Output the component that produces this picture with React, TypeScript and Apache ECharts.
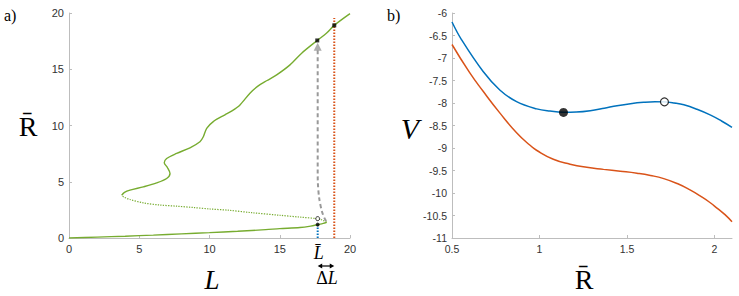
import React, { useEffect, useRef } from "react";
import * as echarts from "echarts";

// ---------- Panel a data (L, R̄) ----------
const lowerStable: [number, number][] = [
  [0, 0], [2, 0.08], [4, 0.16], [6, 0.26], [8, 0.37], [10, 0.48], [12, 0.6], [14, 0.74],
  [15, 0.83], [16.44, 0.93], [17.2, 1.06], [17.7, 1.19], [18.1, 1.3], [18.34, 1.4],
];
const unstableBranch: [number, number][] = [
  [18.34, 1.4], [18.1, 1.56], [17.7, 1.71], [16.5, 1.85], [15, 2.02], [13, 2.25], [11.34, 2.47],
  [10.04, 2.58], [8.85, 2.71], [7.66, 2.83], [6.48, 2.93], [5.29, 3.12], [4.34, 3.42], [3.9, 3.64], [3.75, 3.8],
];
const upperStable: [number, number][] = [
  [3.75, 3.8], [3.95, 4.05], [4.34, 4.25], [5.29, 4.55], [6.24, 4.9], [6.95, 5.29], [7.19, 5.74],
  [7.0, 6.27], [6.78, 6.69], [6.95, 7.07], [7.66, 7.52], [8.61, 8.02], [9.32, 8.56], [9.56, 9.0],
  [9.8, 9.75], [10.27, 10.35], [11.1, 10.95], [11.6, 11.3], [12.17, 11.83], [12.88, 12.87],
  [13.47, 13.52], [14.1, 14.0], [14.78, 14.5], [15.73, 15.39], [16.56, 16.43], [17.67, 17.56],
  [18.34, 18.22], [18.88, 18.9], [20, 19.94],
];
const jumpPath: [number, number][] = [
  [18.3, 1.5], [18.1, 2.0], [17.9, 2.9], [17.75, 4.2], [17.7, 6], [17.7, 16.7],
];
const arrowHead: [number, number][] = [[17.7, 17.0]];
const orangeLine: [number, number][] = [[18.88, 0], [18.88, 19.55]];
const blueLine: [number, number][] = [[17.7, 0], [17.7, 1.19]];
const squareMarks: [number, number][] = [[17.67, 17.56], [18.88, 18.9]];
const stablePoint: [number, number][] = [[17.7, 1.19]];
const unstablePoint: [number, number][] = [[17.7, 1.72]];
const ticksA = { min: 0, max: 20, interval: 5 };

// ---------- Panel b data (R̄, V) ----------
const blueCurve: [number, number][] = [
  [0.5, -6.2], [0.554, -6.59], [0.678, -7.3], [0.773, -7.71], [0.869, -7.97], [0.984, -8.13],
  [1.06, -8.18], [1.137, -8.205], [1.21, -8.2], [1.29, -8.17], [1.37, -8.115], [1.443, -8.06],
  [1.52, -8.015], [1.595, -7.985], [1.66, -7.972], [1.714, -7.975], [1.77, -8.0], [1.825, -8.04],
  [1.9, -8.14], [1.978, -8.27], [2.04, -8.4], [2.1, -8.54],
];
const orangeCurve: [number, number][] = [
  [0.5, -6.7], [0.6, -7.32], [0.678, -7.74], [0.773, -8.22], [0.869, -8.66], [0.946, -8.94],
  [0.983, -9.05], [1.079, -9.25], [1.175, -9.36], [1.27, -9.43], [1.366, -9.475], [1.461, -9.515],
  [1.557, -9.56], [1.634, -9.61], [1.71, -9.68], [1.787, -9.79], [1.86, -9.93], [1.92, -10.07],
  [1.97, -10.2], [2.016, -10.34], [2.06, -10.48], [2.1, -10.64],
];
const minimumPoint: [number, number][] = [[1.137, -8.21]];
const maximumPoint: [number, number][] = [[1.714, -7.975]];
const ticksBx = { min: 0.5, max: 2.1, interval: 0.5 };
const ticksBy = { min: -11, max: -6, interval: 0.5 };

const GREEN = "#77AC30";
const BLUE = "#0072BD";
const ORANGE = "#D95319";

const gridA = { left: 69, top: 13, width: 281, height: 225 };
const gridB = { left: 452, top: 13, width: 280, height: 225 };

const SERIF = '"Liberation Serif", "DejaVu Serif", serif';
const SANS = '"Liberation Sans", Arial, sans-serif';

function axisStyle(fontSize: number) {
  return {
    axisLine: { show: true, onZero: false, lineStyle: { color: "#bdbdbd", width: 1 } },
    axisTick: { show: true, inside: true, length: 3, lineStyle: { color: "#bdbdbd" } },
    splitLine: { show: false },
    axisLabel: { color: "#333", fontSize, fontFamily: SANS, margin: 5 },
  };
}

export default function App() {
  const ref = useRef<HTMLDivElement>(null);
  useEffect(() => {
    if (!ref.current) return;
    const chart = echarts.init(ref.current, null, { renderer: "svg", width: 739, height: 296 });
    const lbarX = gridA.left + (17.7 / 20) * gridA.width;
    const dlX = gridA.left + (18.88 / 20) * gridA.width;
    const arrowY = 266;
    const option: any = {
      animation: false,
      backgroundColor: "#fff",
      grid: [
        { ...gridA, containLabel: false },
        { ...gridB, containLabel: false },
      ],
      xAxis: [
        { type: "value", gridIndex: 0, ...ticksA, ...axisStyle(11) },
        {
          type: "value", gridIndex: 1, ...ticksBx, ...axisStyle(10.5),
          axisLabel: { ...axisStyle(10.5).axisLabel, showMaxLabel: false },
        },
      ],
      yAxis: [
        { type: "value", gridIndex: 0, ...ticksA, ...axisStyle(11) },
        { type: "value", gridIndex: 1, ...ticksBy, ...axisStyle(10.5) },
      ],
      series: [
        {
          type: "line", xAxisIndex: 0, yAxisIndex: 0, data: orangeLine, symbol: "none",
          lineStyle: { color: ORANGE, width: 2, type: [1.6, 1.4] }, z: 2,
        },
        {
          type: "line", xAxisIndex: 0, yAxisIndex: 0, data: blueLine, symbol: "none",
          lineStyle: { color: BLUE, width: 2, type: [1.6, 1.4] }, z: 2,
        },
        {
          type: "line", xAxisIndex: 0, yAxisIndex: 0, data: lowerStable, symbol: "none", smooth: 0.3,
          lineStyle: { color: GREEN, width: 1.4 }, z: 3,
        },
        {
          type: "line", xAxisIndex: 0, yAxisIndex: 0, data: unstableBranch, symbol: "none", smooth: 0.3,
          lineStyle: { color: GREEN, width: 1.2, type: [1.3, 1.3] }, z: 3,
        },
        {
          type: "line", xAxisIndex: 0, yAxisIndex: 0, data: upperStable, symbol: "none", smooth: 0.3,
          lineStyle: { color: GREEN, width: 1.4 }, z: 3,
        },
        {
          type: "line", xAxisIndex: 0, yAxisIndex: 0, data: jumpPath, symbol: "none", smooth: 0.4,
          lineStyle: { color: "#999999", width: 2, type: [4, 3] }, z: 4,
        },
        {
          type: "scatter", xAxisIndex: 0, yAxisIndex: 0, data: arrowHead, symbol: "triangle",
          symbolSize: [8, 8], itemStyle: { color: "#999999" }, z: 4,
        },
        {
          type: "scatter", xAxisIndex: 0, yAxisIndex: 0, data: squareMarks, symbol: "rect",
          symbolSize: 4, itemStyle: { color: "#000" }, z: 5,
        },
        {
          type: "scatter", xAxisIndex: 0, yAxisIndex: 0, data: stablePoint, symbol: "circle",
          symbolSize: 4, itemStyle: { color: "#000" }, z: 5,
        },
        {
          type: "scatter", xAxisIndex: 0, yAxisIndex: 0, data: unstablePoint, symbol: "circle",
          symbolSize: 4, itemStyle: { color: "#fff", borderColor: "#000", borderWidth: 1 }, z: 5,
        },
        {
          type: "line", xAxisIndex: 1, yAxisIndex: 1, data: blueCurve, symbol: "none", smooth: 0.4,
          lineStyle: { color: BLUE, width: 1.5 }, z: 3,
        },
        {
          type: "line", xAxisIndex: 1, yAxisIndex: 1, data: orangeCurve, symbol: "none", smooth: 0.5,
          lineStyle: { color: ORANGE, width: 1.5 }, z: 3,
        },
        {
          type: "scatter", xAxisIndex: 1, yAxisIndex: 1, data: minimumPoint, symbol: "circle",
          symbolSize: 9, itemStyle: { color: "#000" }, z: 5,
        },
        {
          type: "scatter", xAxisIndex: 1, yAxisIndex: 1, data: maximumPoint, symbol: "circle",
          symbolSize: 8, itemStyle: { color: "#fff", borderColor: "#000", borderWidth: 1.2 }, z: 5,
        },
      ],
      graphic: [
        { type: "text", x: 4, y: 7, style: { text: "a)", fontSize: 16, fontFamily: SERIF, fill: "#000" } },
        { type: "text", x: 387, y: 7, style: { text: "b)", fontSize: 16, fontFamily: SERIF, fill: "#000" } },
        {
          type: "text", x: 28, y: 126,
          style: { text: "R\u0304", fontSize: 28, fontFamily: SERIF, fill: "#000", align: "center", verticalAlign: "middle" },
        },
        {
          type: "text", x: 212, y: 280,
          style: { text: "L", fontSize: 27, fontStyle: "italic", fontFamily: SERIF, fill: "#000", align: "center", verticalAlign: "middle" },
        },
        {
          type: "text", x: lbarX + 1, y: 253,
          style: { text: "L\u0304", fontSize: 18, fontStyle: "italic", fontFamily: SERIF, fill: "#000", align: "center", verticalAlign: "middle" },
        },
        {
          type: "text", x: (lbarX + dlX) / 2 + 1, y: 278,
          style: {
            text: "{u|Δ}{i|L}", align: "center", verticalAlign: "middle",
            rich: {
              u: { fontSize: 18, fontFamily: SERIF, fill: "#000" },
              i: { fontSize: 18, fontFamily: SERIF, fontStyle: "italic", fill: "#000" },
            },
          },
        },
        { type: "line", shape: { x1: lbarX + 3, y1: arrowY, x2: dlX - 3, y2: arrowY }, style: { stroke: "#000", lineWidth: 1.2 } },
        {
          type: "polygon",
          shape: { points: [[lbarX, arrowY], [lbarX + 4.5, arrowY - 2.5], [lbarX + 4.5, arrowY + 2.5]] },
          style: { fill: "#000" },
        },
        {
          type: "polygon",
          shape: { points: [[dlX, arrowY], [dlX - 4.5, arrowY - 2.5], [dlX - 4.5, arrowY + 2.5]] },
          style: { fill: "#000" },
        },
        {
          type: "text", x: 410, y: 128,
          style: { text: "V", fontSize: 30, fontStyle: "italic", fontFamily: SERIF, fill: "#000", align: "center", verticalAlign: "middle" },
        },
        {
          type: "text", x: 584, y: 279,
          style: { text: "R\u0304", fontSize: 28, fontFamily: SERIF, fill: "#000", align: "center", verticalAlign: "middle" },
        },
      ],
    };
    chart.setOption(option);
    return () => chart.dispose();
  }, []);
  return (
    <div
      ref={ref}
      style={{ position: "absolute", left: 0, top: 0, width: 739, height: 296, background: "#fff" }}
    />
  );
}
